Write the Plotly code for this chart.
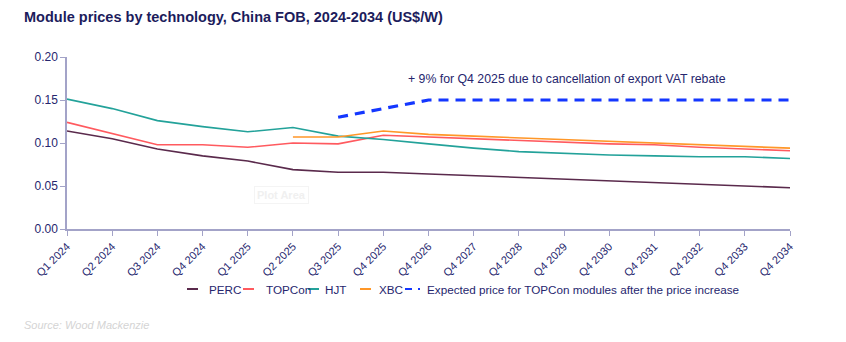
import plotly.graph_objects as go

# Quarterly / annual periods on the x axis
periods = ["Q1 2024", "Q2 2024", "Q3 2024", "Q4 2024", "Q1 2025", "Q2 2025",
           "Q3 2025", "Q4 2025", "Q4 2026", "Q4 2027", "Q4 2028", "Q4 2029",
           "Q4 2030", "Q4 2031", "Q4 2032", "Q4 2033", "Q4 2034"]

# Module prices, US$/W
perc = [0.114, 0.105, 0.093, 0.085, 0.079, 0.069, 0.066, 0.066, 0.064,
        0.062, 0.060, 0.058, 0.056, 0.054, 0.052, 0.050, 0.048]
topcon = [0.124, 0.111, 0.098, 0.098, 0.095, 0.100, 0.099, 0.109, 0.107,
          0.105, 0.103, 0.101, 0.099, 0.098, 0.095, 0.093, 0.091]
hjt = [0.151, 0.140, 0.126, 0.119, 0.113, 0.118, 0.108, 0.104, 0.099,
       0.094, 0.090, 0.088, 0.086, 0.085, 0.084, 0.084, 0.082]
xbc = [None, None, None, None, None, 0.107, 0.107, 0.114, 0.110,
       0.108, 0.106, 0.104, 0.102, 0.100, 0.098, 0.096, 0.094]
topcon_expected = [None, None, None, None, None, None, 0.130, 0.140, 0.150,
                   0.150, 0.150, 0.150, 0.150, 0.150, 0.150, 0.150, 0.150]

series_names = ["PERC", "TOPCon", "HJT", "XBC",
                "Expected price for TOPCon modules after the price increase"]

NAVY = "#26266e"
FONT = "Arial, Liberation Sans, sans-serif"
colors = {"PERC": "#5a2a4c", "TOPCon": "#ff5a5f", "HJT": "#23a29a",
          "XBC": "#ff9728", "Expected": "#1437ff"}

fig = go.Figure()
for name, vals, col in [("PERC", perc, colors["PERC"]),
                        ("TOPCon", topcon, colors["TOPCon"]),
                        ("HJT", hjt, colors["HJT"]),
                        ("XBC", xbc, colors["XBC"])]:
    fig.add_trace(go.Scatter(x=periods, y=vals, mode="lines", name=name,
                             line=dict(color=col, width=1.6),
                             showlegend=False))
fig.add_trace(go.Scatter(x=periods, y=topcon_expected, mode="lines",
                         name=series_names[4],
                         line=dict(color=colors["Expected"], width=3.2,
                                   dash="10px,7px"),
                         showlegend=False))

# Figure geometry (pixels)
W, H = 846, 342
L, R, T, B = 67, 56, 57, 113
pw, ph = W - L - R, H - T - B


def px(x):
    return (x - L) / pw


def py(y):
    return (H - B - y) / ph


annotations = [
    dict(text="<b>Module prices by technology, China FOB, 2024-2034 (US$/W)</b>",
         xref="paper", yref="paper", x=px(22), y=py(17), xanchor="left",
         yanchor="middle", showarrow=False,
         font=dict(family=FONT, size=14.5, color="#1c1c5c")),
    dict(text="+ 9% for Q4 2025 due to cancellation of export VAT rebate",
         xref="paper", yref="paper", x=px(406), y=py(79), xanchor="left",
         yanchor="middle", showarrow=False,
         font=dict(family=FONT, size=12.3, color=NAVY)),
    dict(text="<i>Source: Wood Mackenzie</i>",
         xref="paper", yref="paper", x=px(22), y=py(325), xanchor="left",
         yanchor="middle", showarrow=False,
         font=dict(family=FONT, size=11, color="#d4d4d4")),
    dict(text="<b>Plot Area</b>",
         xref="paper", yref="paper", x=px(281), y=py(195), xanchor="center",
         yanchor="middle", showarrow=False, bgcolor="#ffffff",
         bordercolor="#f4f4f4", borderwidth=1, borderpad=2,
         font=dict(family=FONT, size=11, color="#f0f0f0")),
]

# Legend row, drawn with shapes and text
legend_y = 289
legend_items = [  # (label, colour key, line start px, text start px)
    ("PERC", "PERC", 187, 207),
    ("TOPCon", "TOPCon", 243, 264),
    ("HJT", "HJT", 308, 323),
    ("XBC", "XBC", 360, 377),
]
shapes = []
for label, key, lx, tx in legend_items:
    shapes.append(dict(type="line", xref="paper", yref="paper",
                       x0=px(lx), x1=px(lx + 11), y0=py(legend_y),
                       y1=py(legend_y), line=dict(color=colors[key], width=2)))
    annotations.append(dict(text=label, xref="paper", yref="paper",
                            x=px(tx), y=py(legend_y), xanchor="left",
                            yanchor="middle", showarrow=False,
                            font=dict(family=FONT, size=11.7, color=NAVY)))
shapes.append(dict(type="line", xref="paper", yref="paper",
                   x0=px(405), x1=px(412), y0=py(legend_y), y1=py(legend_y),
                   line=dict(color=colors["Expected"], width=2)))
shapes.append(dict(type="line", xref="paper", yref="paper",
                   x0=px(418), x1=px(420), y0=py(legend_y), y1=py(legend_y),
                   line=dict(color=colors["Expected"], width=2)))
annotations.append(dict(text=series_names[4], xref="paper", yref="paper",
                        x=px(425), y=py(legend_y), xanchor="left",
                        yanchor="middle", showarrow=False,
                        font=dict(family=FONT, size=11.7, color=NAVY)))

fig.update_layout(
    width=W, height=H,
    margin=dict(l=L, r=R, t=T, b=B, pad=0),
    paper_bgcolor="white", plot_bgcolor="white",
    font=dict(family=FONT, size=12, color=NAVY),
    annotations=annotations, shapes=shapes,
    xaxis=dict(type="category", range=[0, len(periods) - 1],
               showgrid=False, zeroline=False, showline=True,
               linecolor="#a3a3c8", linewidth=1.5, ticks="outside",
               ticklen=5, tickcolor="#a3a3c8", tickangle=-45,
               tickfont=dict(family=FONT, size=11, color=NAVY)),
    yaxis=dict(range=[0, 0.2], dtick=0.05, tickformat=".2f",
               showgrid=False, zeroline=False, showline=True,
               linecolor="#a3a3c8", linewidth=1.5, ticks="outside",
               ticklen=5, tickcolor="#a3a3c8",
               tickfont=dict(family=FONT, size=12, color=NAVY)),
)

fig.write_html("out.html")
